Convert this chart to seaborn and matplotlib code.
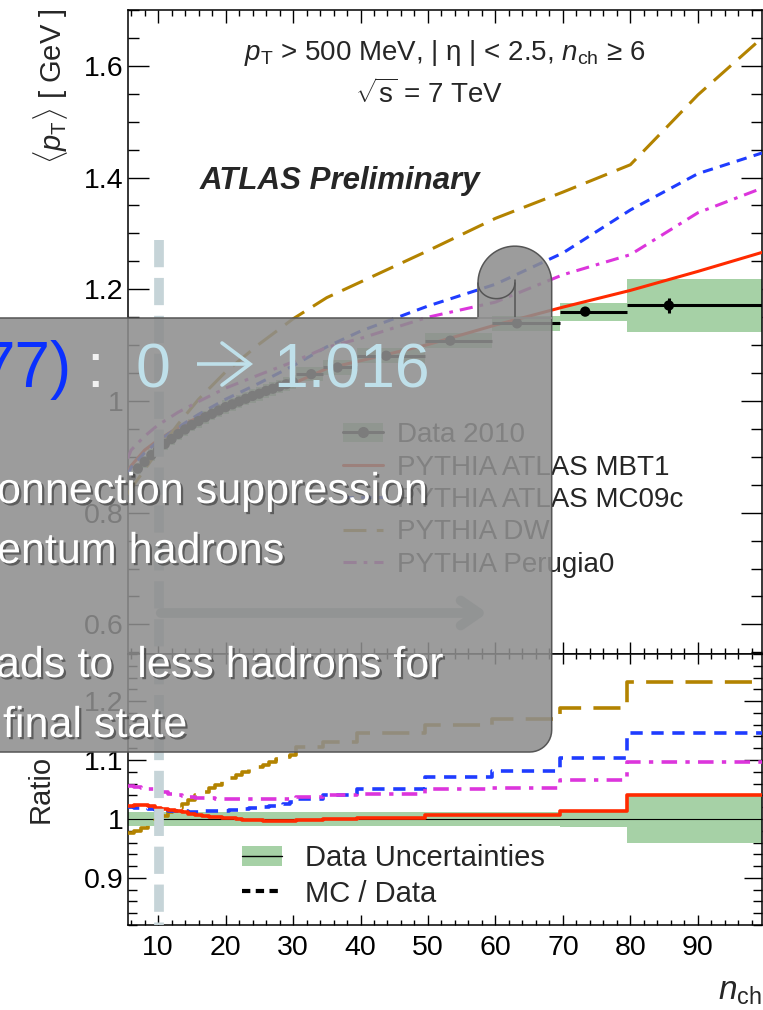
import numpy as np
import pandas as pd
import matplotlib
matplotlib.use("Agg")
import matplotlib.pyplot as plt
import seaborn as sns
from matplotlib.patches import Patch, PathPatch
from matplotlib.lines import Line2D
from matplotlib.path import Path
from matplotlib import transforms
import matplotlib.patheffects as pe
from matplotlib.ticker import MultipleLocator, FuncFormatter

sns.set_style("ticks")
plt.rcParams['font.family'] = ['Liberation Sans', 'DejaVu Sans']
plt.rcParams['mathtext.fontset'] = 'custom'
plt.rcParams['mathtext.rm'] = 'Liberation Sans'
plt.rcParams['mathtext.it'] = 'Liberation Sans:italic'
plt.rcParams['mathtext.bf'] = 'Liberation Sans:bold'
plt.rcParams['axes.edgecolor'] = 'black'
plt.rcParams['xtick.color'] = 'black'
plt.rcParams['ytick.color'] = 'black'

# ---------------- data ----------------
data_x = [6, 7, 8, 9, 10, 11, 12, 13, 14, 15, 16, 17, 18, 19, 20, 21, 22, 23, 24, 25,
          26, 27, 28, 29, 30, 32.7, 36.6, 43.8, 53.3, 63.2, 73.3, 85.7]
data_mean = [0.864, 0.879, 0.891, 0.903, 0.913, 0.923, 0.932, 0.941, 0.949, 0.957,
             0.964, 0.971, 0.977, 0.983, 0.989, 0.994, 0.999, 1.004, 1.009, 1.013,
             1.018, 1.022, 1.026, 1.030, 1.034, 1.048, 1.060, 1.081, 1.108, 1.139,
             1.160, 1.171]
data_stat = [0.002] * 25 + [0.003, 0.003, 0.003, 0.004, 0.005, 0.006, 0.013]
bin_lo = [5.5, 6.5, 7.5, 8.5, 9.5, 10.5, 11.5, 12.5, 13.5, 14.5, 15.5, 16.5, 17.5, 18.5,
          19.5, 20.5, 21.5, 22.5, 23.5, 24.5, 25.5, 26.5, 27.5, 28.5, 29.5, 30.5, 34.5,
          39.5, 49.5, 59.5, 69.5, 79.5]
bin_hi = [6.5, 7.5, 8.5, 9.5, 10.5, 11.5, 12.5, 13.5, 14.5, 15.5, 16.5, 17.5, 18.5, 19.5,
          20.5, 21.5, 22.5, 23.5, 24.5, 25.5, 26.5, 27.5, 28.5, 29.5, 30.5, 34.5, 39.5,
          49.5, 59.5, 69.5, 79.5, 99.5]
rel_unc = [0.012] * 30 + [0.014, 0.040]

# MC predictions (main panel, smooth curves)
mc_x = [5.5, 6, 8, 10, 13, 16, 20, 25, 30, 35, 40, 50, 60, 70, 80, 90, 99.5]
mbt1 = [0.873, 0.884, 0.912, 0.930, 0.953, 0.971, 0.991, 1.011, 1.031, 1.058, 1.072,
        1.101, 1.136, 1.168, 1.198, 1.232, 1.266]
mc09c = [0.868, 0.881, 0.907, 0.928, 0.953, 0.976, 1.003, 1.032, 1.063, 1.097, 1.125,
         1.170, 1.209, 1.265, 1.342, 1.407, 1.444]
dw = [0.833, 0.843, 0.877, 0.911, 0.959, 1.003, 1.052, 1.102, 1.147, 1.185, 1.213,
      1.269, 1.327, 1.374, 1.423, 1.548, 1.650]
perugia0 = [0.897, 0.912, 0.937, 0.957, 0.980, 0.999, 1.023, 1.047, 1.070, 1.096, 1.112,
            1.150, 1.177, 1.226, 1.262, 1.337, 1.381]

# MC / Data ratios per bin
r_mbt1 = [1.022, 1.024, 1.024, 1.022, 1.019, 1.017, 1.015, 1.013, 1.011, 1.009, 1.007,
          1.005, 1.004, 1.003, 1.002, 1.001, 1.000, 0.999, 0.998, 0.998, 0.997, 0.997,
          0.996, 0.996, 0.997, 0.998, 1.000, 1.002, 1.006, 1.006, 1.014, 1.041]
r_mc09c = [1.020, 1.019, 1.018, 1.017, 1.016, 1.015, 1.014, 1.013, 1.013, 1.012, 1.012,
           1.013, 1.013, 1.014, 1.014, 1.015, 1.016, 1.017, 1.018, 1.019, 1.020, 1.022,
           1.024, 1.026, 1.028, 1.034, 1.041, 1.051, 1.071, 1.082, 1.103, 1.146]
r_dw = [0.976, 0.979, 0.984, 0.991, 0.998, 1.005, 1.012, 1.019, 1.026, 1.033, 1.040,
        1.046, 1.052, 1.058, 1.064, 1.069, 1.074, 1.079, 1.084, 1.088, 1.092, 1.097,
        1.101, 1.105, 1.109, 1.122, 1.130, 1.146, 1.160, 1.170, 1.188, 1.233]
r_perugia0 = [1.056, 1.054, 1.052, 1.050, 1.048, 1.046, 1.043, 1.041, 1.039, 1.037, 1.036,
              1.035, 1.035, 1.034, 1.034, 1.034, 1.034, 1.034, 1.034, 1.034, 1.034, 1.034,
              1.034, 1.034, 1.035, 1.038, 1.040, 1.042, 1.050, 1.052, 1.066, 1.097]

legend_labels = ["Data 2010", "PYTHIA ATLAS MBT1", "PYTHIA ATLAS MC09c",
                 "PYTHIA DW", "PYTHIA Perugia0"]

# ---------------- styles ----------------
C_RED = '#ff2a00'
C_BLUE = '#1f3cff'
C_BROWN = '#b38300'
C_MAG = '#dc35dc'
C_GREEN = '#a6d1a6'
LW = 2.2
LS_BLUE = (0, (3.4, 2.4))
LS_BROWN = (0, (7.5, 3.4))
LS_MAG = (0, (4.3, 2.3, 1.2, 2.3))

W, H = 763, 1010
fig = plt.figure(figsize=(W / 100, H / 100), dpi=100)
L = 127.7 / W
R = 762.0 / W
ax = fig.add_axes([L, 1 - 654 / H, R - L, (654 - 10) / H])
axr = fig.add_axes([L, 1 - 925 / H, R - L, (925 - 654) / H])

# ---------------- main panel ----------------
dx = np.array(data_x)
dm = np.array(data_mean)
lo = np.array(bin_lo)
hi = np.array(bin_hi)
ru = np.array(rel_unc)
ax.bar(lo, 2 * ru * dm, bottom=dm * (1 - ru), width=hi - lo, align='edge',
       color=C_GREEN, linewidth=0, zorder=1)

mc_df = pd.DataFrame({"x": mc_x, "mbt1": mbt1, "mc09c": mc09c, "dw": dw, "perugia0": perugia0})
sns.lineplot(data=mc_df, x="x", y="mbt1", ax=ax, color=C_RED, lw=LW, estimator=None, zorder=3)
sns.lineplot(data=mc_df, x="x", y="mc09c", ax=ax, color=C_BLUE, lw=LW, linestyle=LS_BLUE,
             estimator=None, zorder=3)
sns.lineplot(data=mc_df, x="x", y="dw", ax=ax, color=C_BROWN, lw=LW, linestyle=LS_BROWN,
             estimator=None, zorder=3)
sns.lineplot(data=mc_df, x="x", y="perugia0", ax=ax, color=C_MAG, lw=LW, linestyle=LS_MAG,
             estimator=None, zorder=3)

ax.errorbar(dx, dm, yerr=data_stat, xerr=[dx - lo, hi - dx], fmt='none', ecolor='black',
            elinewidth=2.2, capsize=0, zorder=4)
sns.scatterplot(x=dx, y=dm, ax=ax, color='black', s=55, edgecolor='none', zorder=5)

ax.set_xlim(5.5, 99.5)
ax.set_ylim(0.547, 1.70)
ax.set_xlabel("")
ax.set_ylabel("")

h_data = (Patch(facecolor=C_GREEN, edgecolor='none'),
          Line2D([], [], color='black', lw=LW, marker='o', ms=7))
handles = [h_data,
           Line2D([], [], color=C_RED, lw=LW),
           Line2D([], [], color=C_BLUE, lw=LW, linestyle=LS_BLUE),
           Line2D([], [], color=C_BROWN, lw=LW, linestyle=LS_BROWN),
           Line2D([], [], color=C_MAG, lw=LW, linestyle=LS_MAG)]
ax.legend(handles, legend_labels, loc='upper left', bbox_to_anchor=(0.3394, 0.360),
          frameon=False, fontsize=20, handlelength=1.45, handletextpad=0.5,
          labelspacing=0.23, borderpad=0, borderaxespad=0)

ax.text(0.50, 0.933, r"$p_{\mathrm{T}}$ > 500 MeV, | η | < 2.5, $n_{\mathrm{ch}}$ ≥ 6",
        transform=ax.transAxes, ha='center', va='center', fontsize=20)
ax.text(0.475, 0.870, r"$\sqrt{\mathrm{s}}$ = 7 TeV", transform=ax.transAxes,
        ha='center', va='center', fontsize=20)
ax.text((200 - 127.7) / (762 - 127.7), 1 - (181 - 10) / 644, "ATLAS Preliminary",
        transform=ax.transAxes, ha='left', va='center', fontsize=22.5,
        fontweight='bold', fontstyle='italic')

# ---------------- ratio panel ----------------
ax_edges = list(bin_lo) + [bin_hi[-1]]
axr.bar(lo, 2 * ru, bottom=1 - ru, width=hi - lo, align='edge', color=C_GREEN,
        linewidth=0, zorder=1)
axr.axhline(1.0, color='black', lw=0.8, zorder=2)


def stairs(vals, color, ls, z=3):
    df = pd.DataFrame({"x": ax_edges, "y": list(vals) + [vals[-1]]})
    sns.lineplot(data=df, x="x", y="y", ax=axr, color=color, lw=2.6, linestyle=ls,
                 drawstyle='steps-post', estimator=None, sort=False, zorder=z)


stairs(r_dw, C_BROWN, LS_BROWN)
stairs(r_mc09c, C_BLUE, LS_BLUE)
stairs(r_perugia0, C_MAG, LS_MAG)
stairs(r_mbt1, C_RED, '-', 4)

axr.set_xlim(5.5, 99.5)
axr.set_ylim(0.82, 1.28)
axr.set_xlabel("")
axr.set_ylabel("")

rh = [(Patch(facecolor=C_GREEN, edgecolor='none'), Line2D([], [], color='black', lw=1.0)),
      Line2D([], [], color='black', lw=3, linestyle=(0, (2, 1.3)))]
axr.legend(rh, ["Data Uncertainties", "MC / Data"], loc='upper left',
           bbox_to_anchor=(0.1797, 0.298), frameon=False, fontsize=21,
           handlelength=1.39, handletextpad=0.78, labelspacing=0.25,
           borderpad=0, borderaxespad=0)

# ---------------- ticks ----------------
fmt = FuncFormatter(lambda v, p: f"{round(v, 3):g}")
for a in (ax, axr):
    a.xaxis.set_major_locator(MultipleLocator(10))
    a.xaxis.set_minor_locator(MultipleLocator(2))
    for s in a.spines.values():
        s.set_linewidth(1.1)
        s.set_color('black')
ax.yaxis.set_major_locator(MultipleLocator(0.2))
ax.yaxis.set_minor_locator(MultipleLocator(0.05))
axr.yaxis.set_major_locator(MultipleLocator(0.1))
axr.yaxis.set_minor_locator(MultipleLocator(0.02))
ax.yaxis.set_major_formatter(fmt)
axr.yaxis.set_major_formatter(fmt)
axr.xaxis.set_major_formatter(fmt)

ax.tick_params(axis='both', which='both', direction='in', top=True, right=True,
               bottom=True, left=True, width=1.0, labelsize=20.5, colors='black')
ax.tick_params(axis='y', which='major', length=15, pad=3)
ax.tick_params(axis='y', which='minor', length=8)
ax.tick_params(axis='x', which='major', length=9, labelbottom=False)
ax.tick_params(axis='x', which='minor', length=4.5)
axr.tick_params(axis='both', which='both', direction='in', top=True, right=True,
                bottom=True, left=True, width=1.0, labelsize=20.5, colors='black')
axr.tick_params(axis='y', which='major', length=13, pad=3)
axr.tick_params(axis='y', which='minor', length=6.5)
axr.tick_params(axis='x', which='major', length=7, pad=7)
axr.tick_params(axis='x', which='minor', length=3.6)

fig.text(50 / W, 1 - 8 / H, r"$\langle p_{\mathrm{T}}\rangle$ [ GeV ]", rotation=90,
         ha='center', va='top', fontsize=21)
fig.text(41 / W, 1 - 789 / H, "Ratio", rotation=90, ha='center', va='center', fontsize=21)
fig.text(762 / W, 1 - 1000 / H, r"$n_{\mathrm{ch}}$", ha='right', va='baseline', fontsize=24)

# ---------------- slide overlay ----------------
ov = fig.add_axes([0, 0, 1, 1], zorder=10)
ov.set_xlim(0, W)
ov.set_ylim(H, 0)
ov.axis('off')
ov.patch.set_alpha(0)

tr = transforms.blended_transform_factory(ax.transData, ov.transData)
ov.plot([10.2, 10.2], [240, 925], transform=tr, color='#c6d4d8', lw=7,
        linestyle=(0, (2.8, 1.1)), solid_capstyle='butt', zorder=1)
ov.annotate('', xy=(490, 613), xytext=(158, 613),
            arrowprops=dict(arrowstyle='->,head_length=1.3,head_width=0.9', lw=7,
                            color='#b2c0c4'), zorder=1)

# box with a page-curl bubble on top
bx0, bx1, by0, by1, rr = -40, 551.7, 318, 752, 22
cx, cy, rad = (478 + 551.7) / 2, 283, (551.7 - 478) / 2
t = np.linspace(np.pi, 0, 40)
arc_top = np.column_stack([cx + rad * np.cos(t), cy - rad * np.sin(t)])
t2 = np.linspace(0, np.pi / 2, 12)
corner = np.column_stack([bx1 - rr + rr * np.cos(t2), by1 - rr + rr * np.sin(t2)])
verts = np.vstack([[[bx0, by0], [478, by0], [478, cy]], arc_top,
                   [[bx1, cy]], corner, [[bx0, by1], [bx0, by0]]])
codes = [Path.MOVETO] + [Path.LINETO] * (len(verts) - 2) + [Path.CLOSEPOLY]
ov.add_patch(PathPatch(Path(verts, codes), facecolor='#8e8e8e', alpha=0.88,
                       edgecolor='none', zorder=2))
ov.add_patch(PathPatch(Path(verts, codes), facecolor='none', edgecolor='#555555',
                       lw=1.1, zorder=3))
t3 = np.linspace(np.pi, 2 * np.pi, 30)
ccx, crad = (478 + cx) / 2, (cx - 478) / 2
ov.plot(ccx + crad * np.cos(t3), cy - 0.85 * crad * np.sin(t3), color='#555555', lw=1.1, zorder=3)
ov.plot([cx, cx], [cy - 3, by0], color='#555555', lw=1.1, zorder=3)
ov.plot([478, bx1], [by0, by0], color='#8e8e8e', lw=1.4, alpha=0.9, zorder=3)

shadow = [pe.withSimplePatchShadow(offset=(1.6, -1.6), shadow_rgbFace='#2a2a2a', alpha=0.55)]
C_LB = '#bfe0ea'
ov.text(-20, 387, "77)", color='#0a30ff', fontsize=46, ha='left', va='baseline', zorder=4)
ov.text(86, 387, ":", color='#f2f2f2', fontsize=45, ha='left', va='baseline', zorder=4)
ov.text(136, 387, "0", color=C_LB, fontsize=45, ha='left', va='baseline', zorder=4)
ov.plot([197, 250], [364, 364], color=C_LB, lw=2.6, solid_capstyle='butt', zorder=4)
ov.plot([222, 250, 222], [343, 364, 385], color=C_LB, lw=2.6, solid_joinstyle='miter',
        zorder=4)
ov.text(273, 387, "1.016", color=C_LB, fontsize=45, ha='left', va='baseline', zorder=4)
ov.text(-3, 503, "onnection suppression", color='white', fontsize=31, ha='left',
        va='baseline', zorder=4, path_effects=shadow)
ov.text(-3, 563, "entum hadrons", color='white', fontsize=31, ha='left',
        va='baseline', zorder=4, path_effects=shadow)
ov.text(-4, 677, "ads to  less hadrons for", color='white', fontsize=31, ha='left',
        va='baseline', zorder=4, path_effects=shadow)
ov.text(3, 737, "final state", color='white', fontsize=31, ha='left',
        va='baseline', zorder=4, path_effects=shadow)

fig.savefig("out.png", dpi=100)
